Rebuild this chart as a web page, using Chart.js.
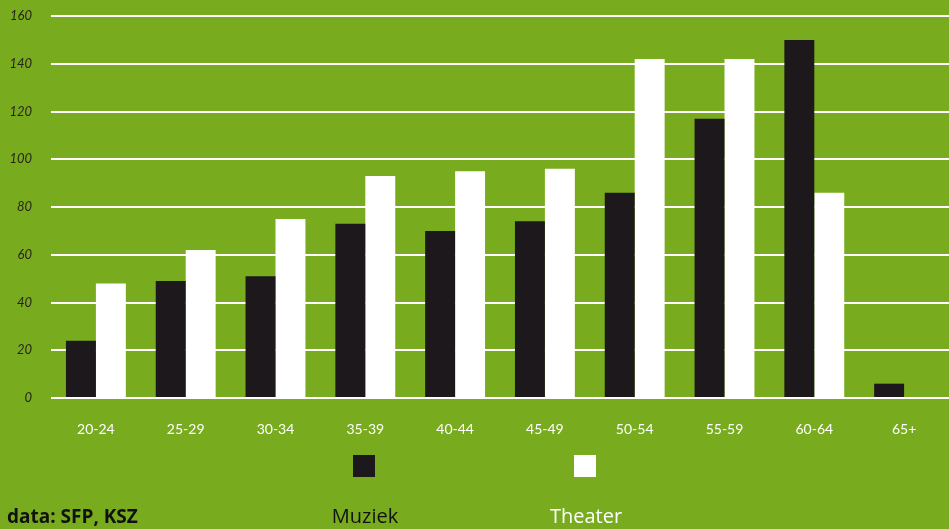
<!DOCTYPE html>
<html lang="nl">
<head>
<meta charset="utf-8">
<title>Muziek en theater per leeftijd</title>
<script src="https://cdn.jsdelivr.net/npm/chart.js@4/dist/chart.umd.min.js"></script>
<style>
    html, body {
        margin: 0;
        padding: 0;
        background: #78ac1e;
    }
    #wrap {
        position: relative;
        width: 949px;
        height: 529px;
    }
</style>
</head>
<body>
<div id="wrap">
    <canvas id="ageChart"></canvas>
</div>
<script>
// Age groups and counts per group
const ageGroups = ['20-24', '25-29', '30-34', '35-39', '40-44', '45-49', '50-54', '55-59', '60-64', '65+'];
const muziek = [24, 49, 51, 73, 70, 74, 86, 117, 150, 6];
const theater = [48, 62, 75, 93, 95, 96, 142, 142, 86, 0];
const yTicks = [0, 20, 40, 60, 80, 100, 120, 140, 160];
const sourceNote = 'data: SFP, KSZ';

const DARK = '#1d181b';

// Legend with the swatches above their names, plus the source note bottom left
const bottomLegend = {
    id: 'bottomLegend',
    afterDraw(chart) {
        const ctx = chart.ctx;
        const centers = [364, 585];
        ctx.save();
        chart.data.datasets.forEach((ds, i) => {
            const cx = centers[i];
            ctx.fillStyle = ds.backgroundColor;
            ctx.fillRect(cx - 11, 455, 22, 22);

            ctx.font = '20px "Open Sans", sans-serif';
            ctx.textAlign = 'center';
            ctx.textBaseline = 'alphabetic';
            ctx.fillStyle = i === 0 ? '#111111' : '#ffffff';
            ctx.fillText(ds.label, cx + 1, 523);
        });

        ctx.font = 'bold 19px "Open Sans", sans-serif';
        ctx.textAlign = 'left';
        ctx.fillStyle = '#111111';
        ctx.fillText(sourceNote, 7, 523);
        ctx.restore();
    }
};

function buildChart() {
    const ctx = document.getElementById('ageChart').getContext('2d');

    return new Chart(ctx, {
        type: 'bar',
        data: {
            labels: ageGroups,
            datasets: [
                {
                    label: 'Muziek',
                    data: muziek,
                    backgroundColor: DARK,
                    borderWidth: 0
                },
                {
                    label: 'Theater',
                    data: theater,
                    backgroundColor: '#ffffff',
                    borderWidth: 0
                }
            ]
        },
        options: {
            responsive: true,
            maintainAspectRatio: false,
            animation: false,
            layout: {
                padding: { top: 16, right: 0, bottom: 95, left: 0 }
            },
            plugins: {
                legend: { display: false },
                tooltip: { enabled: false }
            },
            datasets: {
                bar: {
                    categoryPercentage: 0.667,
                    barPercentage: 1
                }
            },
            scales: {
                x: {
                    grid: { display: false },
                    border: { display: false },
                    ticks: {
                        color: '#ffffff',
                        padding: 15,
                        font: { family: 'Lato', size: 14 }
                    },
                    afterFit(scale) {
                        scale.height = 36;
                    }
                },
                y: {
                    min: 0,
                    max: 160,
                    afterBuildTicks(scale) {
                        scale.ticks = yTicks.map(v => ({ value: v }));
                    },
                    grid: {
                        color: '#ffffff',
                        lineWidth: 2,
                        drawTicks: false
                    },
                    border: { display: false },
                    ticks: {
                        color: '#262618',
                        padding: 19,
                        font: { family: 'Lato', size: 13, style: 'italic' }
                    },
                    afterFit(scale) {
                        // label padding would otherwise push the top gridline down
                        scale.width = 51;
                        scale.paddingTop = 8;
                        scale.paddingBottom = 8;
                    }
                }
            }
        },
        plugins: [bottomLegend]
    });
}

document.addEventListener('DOMContentLoaded', () => {
    try {
        buildChart();
    } catch (error) {
        console.error('Error drawing chart:', error);
    }
});
</script>
</body>
</html>
